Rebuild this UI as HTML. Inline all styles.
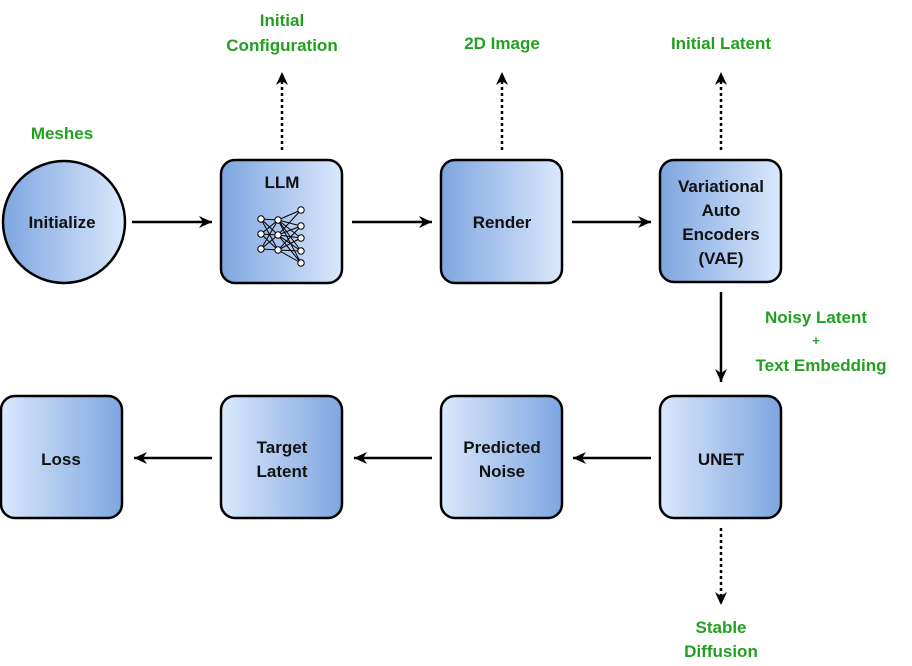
<!DOCTYPE html>
<html><head><meta charset="utf-8"><style>body{margin:0;background:#fff}svg{display:block}text{font-family:"Liberation Sans",sans-serif;font-weight:bold}</style></head><body>
<svg width="912" height="666" viewBox="0 0 912 666" xmlns="http://www.w3.org/2000/svg">
<defs>
<linearGradient id="gd" x1="0" x2="1" y1="0" y2="0"><stop offset="0" stop-color="#7ea6e0"/><stop offset="1" stop-color="#dae8fc"/></linearGradient>
<linearGradient id="gl" x1="0" x2="1" y1="0" y2="0"><stop offset="0" stop-color="#dae8fc"/><stop offset="1" stop-color="#7ea6e0"/></linearGradient>
<marker id="a" markerWidth="14" markerHeight="14" refX="13" refY="7" orient="auto" markerUnits="userSpaceOnUse"><path d="M0,1 L13,7 L0,13 L4,7 Z" fill="#000"/></marker>
</defs>
<g stroke="#000" stroke-width="2.5">
<circle cx="64" cy="222" r="61" fill="url(#gd)"/>
<rect x="221" y="160" width="121" height="123" rx="14" fill="url(#gd)"/>
<rect x="441" y="160" width="121" height="123" rx="14" fill="url(#gd)"/>
<rect x="660" y="160" width="121" height="122" rx="14" fill="url(#gd)"/>
<rect x="1" y="396" width="121" height="122" rx="14" fill="url(#gl)"/>
<rect x="221" y="396" width="121" height="122" rx="14" fill="url(#gl)"/>
<rect x="441" y="396" width="121" height="122" rx="14" fill="url(#gl)"/>
<rect x="660" y="396" width="121" height="122" rx="14" fill="url(#gl)"/>
</g>
<g stroke="#000" stroke-width="2.5" fill="none" marker-end="url(#a)">
<line x1="132" y1="222" x2="212" y2="222"/>
<line x1="352" y1="222" x2="432" y2="222"/>
<line x1="572" y1="222" x2="651" y2="222"/>
<line x1="212" y1="458" x2="134" y2="458"/>
<line x1="432" y1="458" x2="354" y2="458"/>
<line x1="651" y1="458" x2="573" y2="458"/>
<line x1="721" y1="292" x2="721" y2="382"/>
<line x1="282" y1="150" x2="282" y2="72" stroke-dasharray="3,3"/>
<line x1="502" y1="150" x2="502" y2="72" stroke-dasharray="3,3"/>
<line x1="721" y1="150" x2="721" y2="72" stroke-dasharray="3,3"/>
<line x1="721" y1="528" x2="721" y2="605" stroke-dasharray="3,3"/>
</g>
<g stroke="#000" stroke-width="1" fill="#fff">
<g fill="none">
<path d="M261,219L278,220L261,234L278,235L261,249L278,250L261,219L278,235L261,234L278,220M261,249L278,235L261,219L278,250L261,234L278,250M261,249L278,220"/>
<path d="M278,220L301,210M278,220L301,226M278,220L301,238M278,220L301,251M278,235L301,210M278,235L301,226M278,235L301,238M278,235L301,251M278,235L301,263M278,250L301,226M278,250L301,238M278,250L301,251M278,250L301,263M278,220L301,263"/>
</g>
<circle cx="261" cy="219" r="3.2"/><circle cx="261" cy="234" r="3.2"/><circle cx="261" cy="249" r="3.2"/>
<circle cx="278" cy="220" r="3.2"/><circle cx="278" cy="235" r="3.2"/><circle cx="278" cy="250" r="3.2"/>
<circle cx="301" cy="210" r="3.2"/><circle cx="301" cy="226" r="3.2"/><circle cx="301" cy="238" r="3.2"/><circle cx="301" cy="251" r="3.2"/><circle cx="301" cy="263" r="3.2"/>
</g>
<g font-size="17" fill="#111" text-anchor="middle">
<text x="62" y="228">Initialize</text>
<text x="282" y="188">LLM</text>
<text x="502" y="228">Render</text>
<text x="721" y="192">Variational</text>
<text x="721" y="216">Auto</text>
<text x="721" y="240">Encoders</text>
<text x="721" y="264">(VAE)</text>
<text x="61" y="465">Loss</text>
<text x="282" y="453">Target</text>
<text x="282" y="477">Latent</text>
<text x="502" y="453">Predicted</text>
<text x="502" y="477">Noise</text>
<text x="721" y="465">UNET</text>
</g>
<g font-size="17" fill="#22a022" text-anchor="middle">
<text x="62" y="139">Meshes</text>
<text x="282" y="26">Initial</text>
<text x="282" y="51">Configuration</text>
<text x="502" y="49">2D Image</text>
<text x="721" y="49">Initial Latent</text>
<text x="816" y="323">Noisy Latent</text>
<text x="816" y="345" font-size="13">+</text>
<text x="821" y="371">Text Embedding</text>
<text x="721" y="633">Stable</text>
<text x="721" y="657">Diffusion</text>
</g>
</svg>
</body></html>
